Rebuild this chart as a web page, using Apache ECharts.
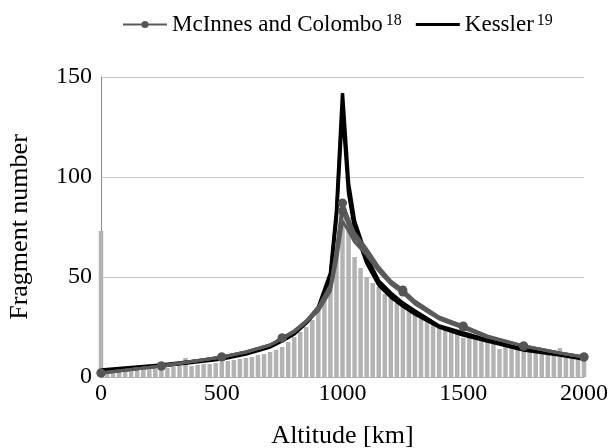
<!DOCTYPE html>
<html>
<head>
<meta charset="utf-8">
<script src="https://cdn.jsdelivr.net/npm/echarts@6/dist/echarts.min.js"></script>
<style>
  html, body { margin: 0; padding: 0; background: #fff; }
  #chart { width: 610px; height: 448px; }
</style>
</head>
<body>
<div id="chart"></div>
<script>
// Histogram bins (altitude, km) and fragment counts per bin
const binAltitudes = [0, 25, 50, 75, 100, 125, 150, 175, 200, 225, 250, 275, 300, 325, 350, 375, 400, 425, 450, 475,
  500, 525, 550, 575, 600, 625, 650, 675, 700, 725, 750, 775, 800, 825, 850, 875, 900, 925, 950, 975,
  1000, 1025, 1050, 1075, 1100, 1125, 1150, 1175, 1200, 1225, 1250, 1275, 1300, 1325, 1350, 1375, 1400, 1425, 1450, 1475,
  1500, 1525, 1550, 1575, 1600, 1625, 1650, 1675, 1700, 1725, 1750, 1775, 1800, 1825, 1850, 1875, 1900, 1925, 1950, 1975, 2000];
const binCounts = [73, 2, 2.5, 2.5, 3, 3, 3.5, 3.5, 4, 4, 4.5, 4.5, 5, 5.5, 9.5, 5.5, 6, 6.5, 6.5, 7,
  7.5, 8, 8.5, 9, 9.5, 10, 11, 11.5, 12.5, 13.5, 15, 17.5, 20, 22.5, 25, 28.5, 33.5, 40, 48.5, 63,
  82, 80, 60, 54.5, 50, 47, 45, 41.5, 39.5, 37, 35, 33, 31, 29.5, 28.5, 27, 26, 25, 24, 23.5,
  19.5, 22, 21, 20, 19, 18, 14, 16.5, 16, 15.5, 15, 14.5, 14, 13.5, 13, 12.5, 14.5, 11.5, 11, 10.5, 10];

// Model curves sampled at these altitudes (km)
const curveAltitudes = [0, 250, 500, 600, 700, 750, 800, 850, 900, 950, 975, 1000, 1025, 1050, 1100, 1150, 1200, 1250, 1300, 1400, 1500, 1600, 1750, 1900, 2000];
// McInnes and Colombo runs
const mcinnesA = [2, 5.5, 10, 12.5, 16, 19.5, 23, 28, 35, 46, 64, 87, 79, 72, 64, 55, 48, 43.5, 38, 30, 25.5, 20.5, 15.5, 12, 10];
const mcinnesB = [2, 5.5, 10, 12.5, 16, 19.5, 23, 28, 34, 44, 61, 83, 76, 70, 62.5, 54, 47, 42.5, 37, 29.5, 25, 20, 15.5, 12, 10];
const mcinnesC = [2, 5.5, 10, 12.5, 16, 19, 22.5, 27.5, 33, 43, 58, 78, 73, 67.5, 61, 53, 46.5, 42, 36.5, 29, 24.5, 20, 15.5, 12, 10];
// Kessler runs
const kesslerA = [3.5, 6, 9.5, 12, 15.5, 18.5, 22, 27.5, 35, 52, 83, 142, 97, 78, 60, 48, 42, 37, 33, 25.5, 22, 18.5, 14, 11.5, 9.5];
const kesslerB = [3, 5.5, 9, 11.5, 15, 18, 21.5, 27, 34, 50, 80, 134, 92, 74, 57, 46, 40, 35.5, 31.5, 25, 21, 18, 13.5, 11, 9];

// Axis ticks
const xTicks = [0, 500, 1000, 1500, 2000];
const yTicks = [0, 50, 100, 150];

const SERIF = 'Liberation Serif, Times New Roman, serif';
const NAME_MC = 'McInnes and Colombo';
const NAME_KE = 'Kessler';

const pairs = (xs, ys) => xs.map((x, i) => [x, ys[i]]);

function kesslerSeries(values) {
  return {
    name: NAME_KE,
    type: 'line',
    data: pairs(curveAltitudes, values),
    symbol: 'none',
    lineStyle: { color: '#000', width: 3.5 },
    itemStyle: { color: '#000' },
    z: 3
  };
}
function mcinnesSeries(values, withMarkers) {
  return {
    name: NAME_MC,
    type: 'line',
    data: pairs(curveAltitudes, values).map((p) => ({
      value: p,
      symbolSize: withMarkers && p[0] % 250 === 0 ? 9 : 0
    })),
    symbol: 'circle',
    symbolSize: 7,
    showAllSymbol: true,
    lineStyle: { color: '#5a5a5a', width: 3 },
    itemStyle: { color: '#555555' },
    z: 4
  };
}

const chart = echarts.init(document.getElementById('chart'), null, { renderer: 'canvas' });
chart.setOption({
  animation: false,
  backgroundColor: '#fff',
  textStyle: { fontFamily: SERIF },
  legend: {
    data: [
      { name: NAME_MC },
      { name: NAME_KE, icon: 'path://M0,0 L44,0 L44,3 L0,3 Z' }
    ],
    left: 117,
    top: 8,
    itemWidth: 44,
    itemHeight: 9,
    itemGap: 14,
    textStyle: {
      fontFamily: SERIF,
      fontSize: 23,
      color: '#000',
      rich: {
        base: { fontFamily: SERIF, fontSize: 23, color: '#000' },
        sup: { fontFamily: SERIF, fontSize: 16, verticalAlign: 'top', color: '#000', padding: [0, 0, 0, 3] }
      }
    },
    formatter: (name) => name === NAME_MC ? '{base|' + NAME_MC + '}{sup|18}' : '{base|' + NAME_KE + '}{sup|19}'
  },
  grid: { left: 101, right: 26, top: 77, bottom: 71, containLabel: false, outerBoundsMode: 'none' },
  xAxis: {
    type: 'value',
    min: xTicks[0],
    max: xTicks[xTicks.length - 1],
    interval: 500,
    name: 'Altitude [km]',
    nameLocation: 'middle',
    nameGap: 46,
    nameTextStyle: { fontFamily: SERIF, fontSize: 26, color: '#000' },
    axisLine: { show: true, lineStyle: { color: '#b0b0b0', width: 1 } },
    axisTick: { show: false },
    splitLine: { show: false },
    axisLabel: { fontFamily: SERIF, fontSize: 24, color: '#000', margin: 5, formatter: (v) => String(v) }
  },
  yAxis: {
    type: 'value',
    min: yTicks[0],
    max: yTicks[yTicks.length - 1],
    interval: 50,
    name: 'Fragment number',
    nameLocation: 'middle',
    nameGap: 68,
    nameRotate: 90,
    nameTextStyle: { fontFamily: SERIF, fontSize: 26, color: '#000' },
    axisLine: { show: true, lineStyle: { color: '#8c8c8c', width: 1 } },
    axisTick: { show: false },
    splitLine: { show: true, lineStyle: { color: '#c8c8c8', width: 1 } },
    axisLabel: { fontFamily: SERIF, fontSize: 24, color: '#000', margin: 9, formatter: (v) => String(v) }
  },
  series: [
    {
      name: 'Fragments',
      type: 'bar',
      data: pairs(binAltitudes, binCounts),
      barWidth: 4.5,
      itemStyle: { color: '#b3b3b3' },
      z: 2
    },
    kesslerSeries(kesslerB),
    kesslerSeries(kesslerA),
    mcinnesSeries(mcinnesC, false),
    mcinnesSeries(mcinnesB, true),
    mcinnesSeries(mcinnesA, true)
  ]
});
</script>
</body>
</html>
